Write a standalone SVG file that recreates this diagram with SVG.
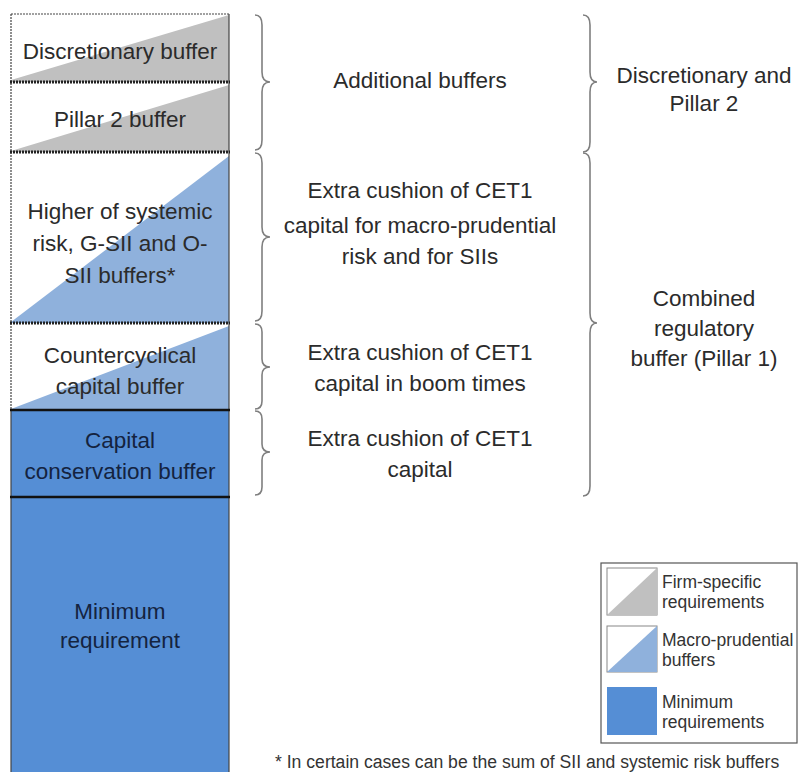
<svg xmlns="http://www.w3.org/2000/svg" width="799" height="772" viewBox="0 0 799 772">
<style>
  .t { font-family: "Liberation Sans", Arial, sans-serif; font-size: 22.5px; fill: #2b2b2b; text-anchor: middle; }
  .tb { fill: #14233f; }
  .lg { font-family: "Liberation Sans", Arial, sans-serif; font-size: 17.5px; fill: #333; }
  .fn { font-family: "Liberation Sans", Arial, sans-serif; font-size: 17.6px; fill: #333; }
  .brace { fill: none; stroke: #7f7f7f; stroke-width: 1.6; }
  .gray { fill: #c0c0c0; }
  .lblue { fill: #8fb1dc; }
  .dblue { fill: #558ed5; }
  .side { stroke: #444; stroke-width: 1.2; fill: none; }
  .dash { stroke: #222; stroke-width: 3; stroke-dasharray: 2 1; }
  .solid { stroke: #111; stroke-width: 2.5; }
</style>

<g id="discretionary-buffer">
  <rect x="11" y="14" width="218" height="68" fill="#fff"/>
  <polygon class="gray" points="11,80 229,15 229,82 11,82"/>
  <line class="side" x1="11" y1="14" x2="229" y2="14" stroke-dasharray="2 1"/>
  <text class="t" x="120" y="59">Discretionary buffer</text>
</g>
<g id="pillar2-buffer">
  <rect x="11" y="83" width="218" height="69" fill="#fff"/>
  <polygon class="gray" points="11,151 229,85 229,152 11,152"/>
  <text class="t" x="120" y="127">Pillar 2 buffer</text>
</g>
<g id="systemic-buffer">
  <rect x="11" y="153" width="218" height="170" fill="#fff"/>
  <polygon class="lblue" points="11,322 229,156 229,323 11,323"/>
  <text class="t" x="120" y="219">Higher of systemic</text>
  <text class="t" x="120" y="251">risk, G-SII and O-</text>
  <text class="t" x="120" y="283">SII buffers*</text>
</g>
<g id="countercyclical-buffer">
  <rect x="11" y="324" width="218" height="86" fill="#fff"/>
  <polygon class="lblue" points="11,409 229,326 229,410 11,410"/>
  <text class="t" x="120" y="363">Countercyclical</text>
  <text class="t" x="120" y="394">capital buffer</text>
</g>
<g id="conservation-buffer">
  <rect class="dblue" x="11" y="410" width="218" height="87"/>
  <text class="t tb" x="120" y="448">Capital</text>
  <text class="t tb" x="120" y="479">conservation buffer</text>
</g>
<g id="minimum-requirement">
  <rect class="dblue" x="11" y="497" width="218" height="280"/>
  <text class="t tb" x="120" y="619">Minimum</text>
  <text class="t tb" x="120" y="648">requirement</text>
</g>
<g id="column-lines">
  <line class="side" x1="11" y1="14" x2="11" y2="410" stroke-dasharray="2 1"/>
  <line class="side" x1="11" y1="410" x2="11" y2="772"/>
  <line class="side" x1="229" y1="14" x2="229" y2="772"/>
  <line class="dash" x1="10" y1="82" x2="230" y2="82"/>
  <line class="dash" x1="10" y1="152" x2="230" y2="152"/>
  <line class="dash" x1="10" y1="323" x2="230" y2="323"/>
  <line class="solid" x1="10" y1="410" x2="230" y2="410"/>
  <line class="solid" x1="10" y1="497" x2="230" y2="497"/>
</g>

<g id="connectors">
  <path class="brace" d="M255,15 Q262,15 262,25 L262,72 Q262,82 270,82 Q262,82 262,92 L262,140 Q262,150 255,150"/>
  <path class="brace" d="M255,153 Q262,153 262,163 L262,227 Q262,237 270,237 Q262,237 262,247 L262,311 Q262,321 255,321"/>
  <path class="brace" d="M255,324 Q262,324 262,332 L262,359 Q262,367 270,367 Q262,367 262,375 L262,401 Q262,409 255,409"/>
  <path class="brace" d="M255,411 Q262,411 262,419 L262,444 Q262,452 270,452 Q262,452 262,460 L262,487 Q262,495 255,495"/>
  <path class="brace" d="M583,15 Q590,15 590,25 L590,72 Q590,82 597,82 Q590,82 590,92 L590,142 Q590,152 583,152"/>
  <path class="brace" d="M583,153 Q590,153 590,163 L590,313 Q590,323 597,323 Q590,323 590,333 L590,486 Q590,496 583,496"/>
</g>

<g id="label-additional">
  <text class="t" x="420" y="88">Additional buffers</text>
</g>
<g id="label-macro">
  <text class="t" x="420" y="198">Extra cushion of CET1</text>
  <text class="t" x="420" y="233">capital for macro-prudential</text>
  <text class="t" x="420" y="264">risk and for SIIs</text>
</g>
<g id="label-boom">
  <text class="t" x="420" y="360">Extra cushion of CET1</text>
  <text class="t" x="420" y="391">capital in boom times</text>
</g>
<g id="label-cet1">
  <text class="t" x="420" y="446">Extra cushion of CET1</text>
  <text class="t" x="420" y="477">capital</text>
</g>
<g id="label-discretionary-pillar2">
  <text class="t" x="704" y="83">Discretionary and</text>
  <text class="t" x="704" y="111">Pillar 2</text>
</g>
<g id="label-combined">
  <text class="t" x="704" y="306">Combined</text>
  <text class="t" x="704" y="336">regulatory</text>
  <text class="t" x="704" y="366">buffer (Pillar 1)</text>
</g>

<g id="legend">
  <rect x="601" y="563" width="196" height="180" fill="#fff" stroke="#555" stroke-width="1.2"/>
  <rect x="607" y="568" width="50" height="47" fill="#fff" stroke="#888" stroke-width="1"/>
  <polygon class="gray" points="607,615 657,568 657,615"/>
  <rect x="607" y="626" width="50" height="46" fill="#fff" stroke="#888" stroke-width="1"/>
  <polygon class="lblue" points="607,672 657,626 657,672"/>
  <rect class="dblue" x="607" y="687" width="50" height="48"/>
  <text class="lg" x="662" y="588">Firm-specific</text>
  <text class="lg" x="662" y="608">requirements</text>
  <text class="lg" x="662" y="646">Macro-prudential</text>
  <text class="lg" x="662" y="666">buffers</text>
  <text class="lg" x="662" y="708">Minimum</text>
  <text class="lg" x="662" y="728">requirements</text>
</g>
<g id="footnote">
  <text class="fn" x="275" y="768">* In certain cases can be the sum of SII and systemic risk buffers</text>
</g>
</svg>
